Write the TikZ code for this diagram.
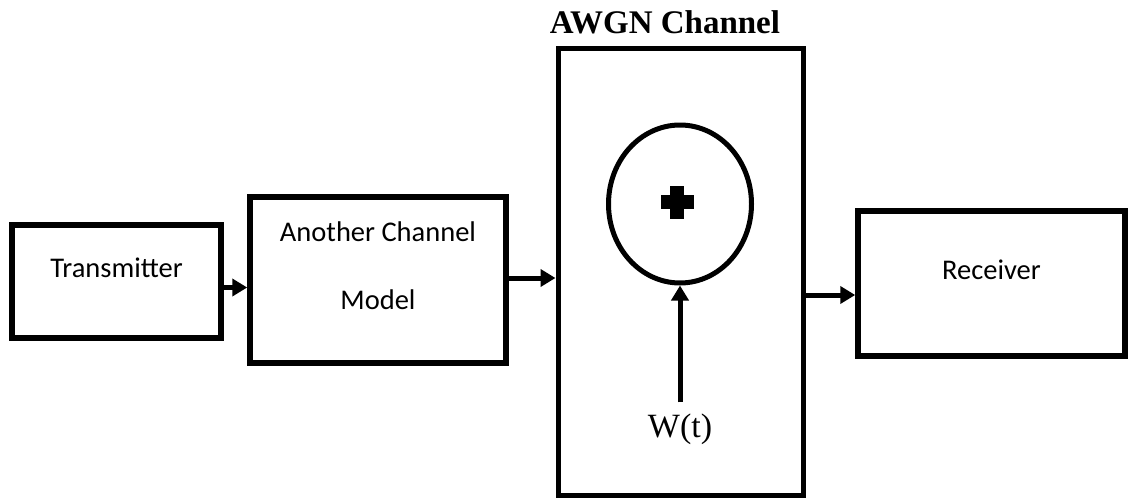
\documentclass[tikz,border=0pt]{standalone}
\usepackage{fontspec}
\setmainfont{Liberation Serif}
\newfontfamily\boxfont{Carlito}
\usepackage{tikz}
\usetikzlibrary{arrows.meta,calc,positioning,shapes.geometric}

\tikzset{
  block/.style={draw, line width=5.5pt, rectangle, inner sep=0pt},
  blocktext/.style={font=\boxfont\fontsize{28.5}{68}\selectfont, align=center},
  arr/.style={line width=5pt, -{Triangle[length=15pt,width=17pt]}},
}

\begin{document}
\begin{tikzpicture}[x=1pt,y=-1pt]
\useasboundingbox (0,0) rectangle (1128,498);
\node[block, minimum width=209pt, minimum height=113pt,
  label={[blocktext, name=txtx, yshift=14pt]center:Transmitter}] (tx) at (116.5,281.5) {};
\node[block, minimum width=256pt, minimum height=166pt,
  label={[blocktext, name=txach, yshift=14pt]center:Another Channel\\Model}] (ach) at (378,280) {};
\node[block, line width=5pt, minimum width=245pt, minimum height=447.5pt] (awgn) at (680.5,271.75) {};
\node[block, minimum width=267pt, minimum height=145pt,
  label={[blocktext, name=txrx, yshift=14pt]center:Receiver}] (rx) at (991.5,283.5) {};
\node[font=\bfseries\fontsize{33}{40}\selectfont] (title) at (665,22) {AWGN Channel};
% adder
\node[draw, ellipse, line width=5pt, minimum width=143pt, minimum height=158pt, inner sep=0pt] (sum) at (680,204) {};
\fill (660.5,195) rectangle (693.5,209);
\fill (670,185.5) rectangle (684,218.5);
\node[font=\fontsize{34}{40}\selectfont, inner sep=0pt] (noise) at (680,429) {W(t)};
\draw[arr] ([yshift=-6pt]tx.east) -- ([yshift=-6pt]tx.east -| ach.west);
\draw[arr] ([yshift=2pt]ach.east) -- ([yshift=2pt]ach.east -| awgn.west);
\draw[arr] ($(awgn.east |- rx.west)+(0,11.5)$) -- ($(rx.west)+(0,11.5)$);
\draw[arr] ([yshift=11pt]noise.north) -- (sum.south);
\end{tikzpicture}
\end{document}
